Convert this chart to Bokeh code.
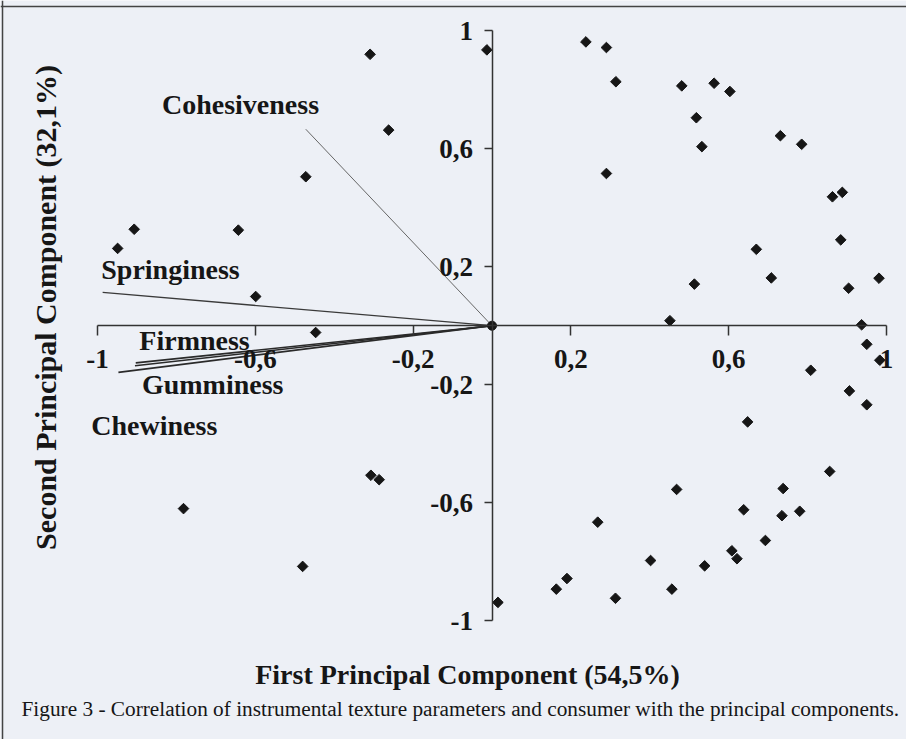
import math
from bokeh.plotting import figure
from bokeh.models import LinearAxis, FixedTicker, Span
from bokeh.embed import file_html
from bokeh.resources import INLINE
from bokeh.core.properties import value

# ---------------- data ----------------
consumer_pc1 = [-0.309, -0.013, -0.262, -0.472, -0.907, -0.643, -0.949, -0.599, -0.447,
                0.238, 0.290, 0.314, 0.481, 0.563, 0.603, 0.518, 0.532, 0.290, 0.731,
                0.785, 0.863, 0.888, 0.884, 0.670, 0.708, 0.981, 0.904, 0.513, 0.451,
                0.937, 0.950, 0.983, 0.808, 0.906, 0.950, 0.648, 0.856, 0.738, 0.468,
                0.638, 0.780, 0.735, 0.268, 0.693, 0.608, 0.621, 0.402, 0.539, 0.190,
                0.163, 0.456, 0.313, 0.015, -0.307, -0.286, -0.782, -0.480]
consumer_pc2 = [0.920, 0.935, 0.663, 0.505, 0.327, 0.324, 0.262, 0.099, -0.023,
                0.962, 0.943, 0.827, 0.813, 0.822, 0.794, 0.705, 0.607, 0.516, 0.644,
                0.615, 0.437, 0.452, 0.291, 0.259, 0.162, 0.161, 0.127, 0.141, 0.017,
                0.003, -0.063, -0.117, -0.151, -0.221, -0.268, -0.326, -0.494, -0.552, -0.555,
                -0.624, -0.629, -0.644, -0.666, -0.728, -0.763, -0.790, -0.796, -0.814, -0.857,
                -0.893, -0.893, -0.924, -0.938, -0.507, -0.522, -0.620, -0.816]

params = ["Cohesiveness", "Springiness", "Firmness", "Chewiness", "Gumminess"]
param_pc1 = [-0.472, -0.987, -0.903, -0.905, -0.947]
param_pc2 = [0.666, 0.113, -0.126, -0.136, -0.158]

origin_x = [0.0]
origin_y = [0.0]

tick_values = [-1.0, -0.6, -0.2, 0.2, 0.6, 1.0]
tick_labels = ["-1", "-0,6", "-0,2", "0,2", "0,6", "1"]

x_title = "First Principal Component (54,5%)"
y_title = "Second Principal Component (32,1%)"
caption = ("Figure 3 - Correlation of instrumental texture parameters and consumer "
           "with the principal components.")

# ---------------- layout / style ----------------
BG = "#edf0f6"
INK = "#161616"
FONT = value("Liberation Serif")

p = figure(width=906, height=739,
           x_range=(-1.2459, 1.0507), y_range=(-1.4027, 1.1024),
           output_backend="svg", toolbar_location=None,
           x_axis_type=None, y_axis_type=None, min_border=0,
           background_fill_color=BG, border_fill_color=BG,
           outline_line_color=None)
p.grid.visible = False

# page frame (top and left edges of the scanned box)
p.add_layout(Span(location=1.082, dimension="width", line_color="#444", line_width=1.5))
p.add_layout(Span(location=-1.2408, dimension="height", line_color="#444", line_width=1.5))

# axes crossing at the origin
axis_style = dict(
    ticker=FixedTicker(ticks=tick_values, minor_ticks=[]),
    major_label_overrides=dict(zip(tick_values, tick_labels)),
    bounds=(-1, 1), fixed_location=0,
    axis_line_color="#333333", axis_line_width=1.5,
    major_tick_line_color="#333333", major_tick_line_width=1.5,
    major_tick_in=0, minor_tick_in=0, minor_tick_out=0,
    major_label_text_font="Liberation Serif", major_label_text_font_style="bold",
    major_label_text_font_size="27px", major_label_text_color=INK,
)
xaxis = LinearAxis(major_tick_out=10, major_label_standoff=14, **axis_style)
yaxis = LinearAxis(major_tick_out=8, major_label_standoff=11, **axis_style)
p.add_layout(xaxis, "below")
p.add_layout(yaxis, "left")

# parameter vectors
vec_colors = ["#666666", "#3a3a3a", "#2a2a2a", "#2a2a2a", "#2a2a2a"]
vec_widths = [1.0, 1.3, 1.6, 1.6, 1.8]
p.segment(x0=[0] * len(params), y0=[0] * len(params), x1=param_pc1, y1=param_pc2,
          line_color=vec_colors, line_width=vec_widths)

# consumers
p.scatter(consumer_pc1, consumer_pc2, marker="square", angle=math.pi / 4,
          size=7.5, fill_color=INK, line_color=INK)
p.scatter(origin_x, origin_y, marker="circle", size=9, fill_color=INK, line_color=INK)

# parameter labels (positions of the text only)
label_x = [-0.6375, -0.815, -0.754, -0.856, -0.708]
label_y = [0.750, 0.190, -0.050, -0.339, -0.199]
p.text(x=label_x, y=label_y, text=params, text_font=FONT, text_font_style="bold",
       text_font_size="28px", text_align="center", text_baseline="middle",
       text_color=INK)

# axis titles
p.text(x=[-0.062], y=[-1.182], text=[x_title], text_font=FONT, text_font_style="bold",
       text_font_size="28px", text_align="center", text_baseline="middle",
       text_color=INK)
p.text(x=[-1.132], y=[0.062], text=[y_title], text_font=FONT, text_font_style="bold",
       text_font_size="30px", text_align="center", text_baseline="middle",
       angle=math.pi / 2, text_color=INK)

# caption
p.text(x=[-1.1927], y=[-1.300], text=[caption], text_font=FONT,
       text_font_size="21.3px", text_align="left", text_baseline="middle",
       text_color=INK)

open("out.html", "w").write(file_html(p, INLINE))
